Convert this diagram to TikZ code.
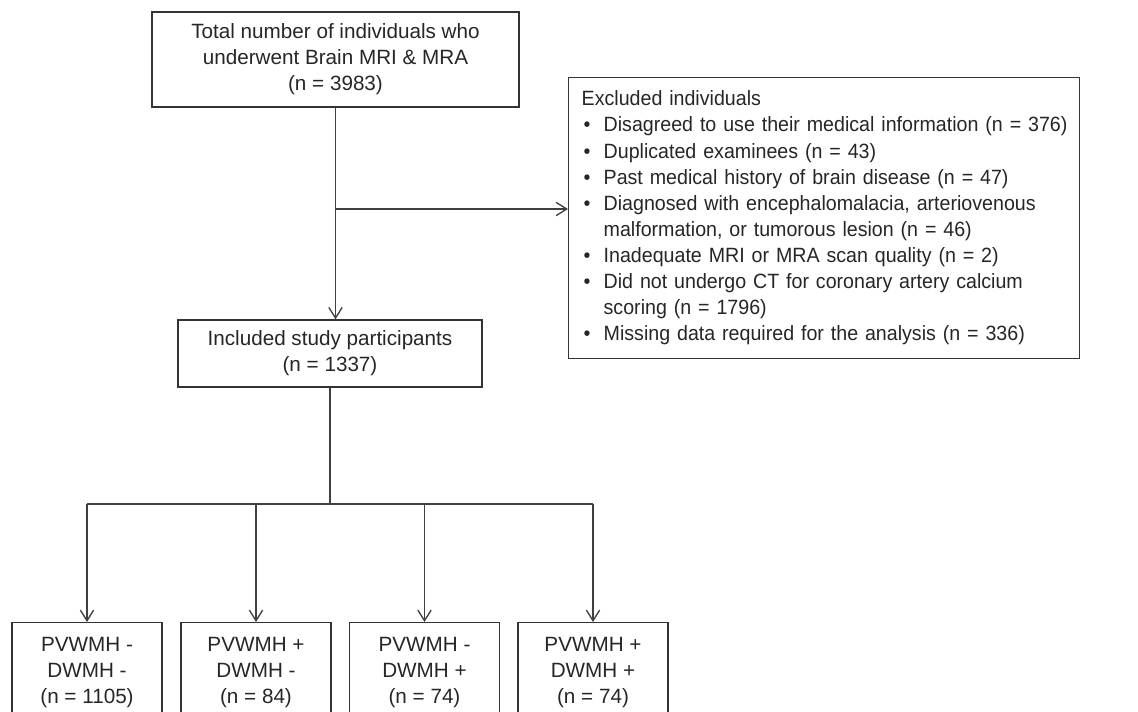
\documentclass[tikz,border=0pt]{standalone}
\usepackage{fontspec}
\setmainfont{Liberation Sans}
\newfontfamily\exclfont{Liberation Sans}[FakeStretch=0.95]
\usetikzlibrary{arrows.meta, positioning}

\tikzset{
  box/.style={draw=black!80, line width=1pt, text=black!85, align=center, inner sep=0pt},
  groupbox/.style={box, minimum width=112.5pt, minimum height=74.25pt, anchor=north},
  link/.style={draw=black!75, line width=1pt},
  arr/.style={link, -{Straight Barb[length=8pt, width=10pt, line width=1pt]}},
}

\begin{document}
\begin{tikzpicture}[x=0.75pt, y=-0.75pt, font=\fontsize{15.5}{19.5}\selectfont]
  \useasboundingbox (0,0) rectangle (1138,712);

  % screening and inclusion
  \node[box, minimum width=275.25pt, minimum height=71.25pt] (total) at (335.5,59.5)
    {Total number of individuals who\\ underwent Brain MRI \& MRA\\ (n = 3983)};
  \node[box, minimum width=228pt, minimum height=50.25pt] (incl) at (330,353.5)
    {Included study participants\\ (n = 1337)};
  \node[box, anchor=north west, align=left, inner xsep=9.75pt, text width=363.75pt,
        minimum height=210.75pt, font=\exclfont\fontsize{15.5}{19.6}\selectfont] (excl) at (568,77)
    {\begin{tabular}{@{}p{16.5pt}@{}l@{}}
      \multicolumn{2}{@{}l@{}}{Excluded individuals}\\
      \hspace{1.5pt}\textbullet & Disagreed to use their medical information (n = 376)\\
      \hspace{1.5pt}\textbullet & Duplicated examinees (n = 43)\\
      \hspace{1.5pt}\textbullet & Past medical history of brain disease (n = 47)\\
      \hspace{1.5pt}\textbullet & Diagnosed with encephalomalacia, arteriovenous\\
                                & malformation, or tumorous lesion (n = 46)\\
      \hspace{1.5pt}\textbullet & Inadequate MRI or MRA scan quality (n = 2)\\
      \hspace{1.5pt}\textbullet & Did not undergo CT for coronary artery calcium\\
                                & scoring (n = 1796)\\
      \hspace{1.5pt}\textbullet & Missing data required for the analysis (n = 336)
    \end{tabular}};

  % WMH groups
  \node[groupbox] (g1) at (87,622)    {PVWMH -\\ DWMH -\\ (n = 1105)};
  \node[groupbox] (g2) at (256,622)   {PVWMH +\\ DWMH -\\ (n = 84)};
  \node[groupbox] (g3) at (424.5,622) {PVWMH -\\ DWMH +\\ (n = 74)};
  \node[groupbox] (g4) at (593,622)   {PVWMH +\\ DWMH +\\ (n = 74)};

  % connectors
  \coordinate (split) at (total.south |- 0,209);
  \draw[arr] (total.south) -- (total.south |- incl.north);
  \draw[arr] (split) -- (split -| excl.west);

  \coordinate (fork) at (incl.south |- 0,504);
  \draw[link] (incl.south) -- (fork);
  \draw[link] (fork -| g1) -- (fork -| g4);
  \foreach \g in {g1, g2, g3, g4}
    \draw[arr] (fork -| \g) -- (\g.north);
\end{tikzpicture}
\end{document}
